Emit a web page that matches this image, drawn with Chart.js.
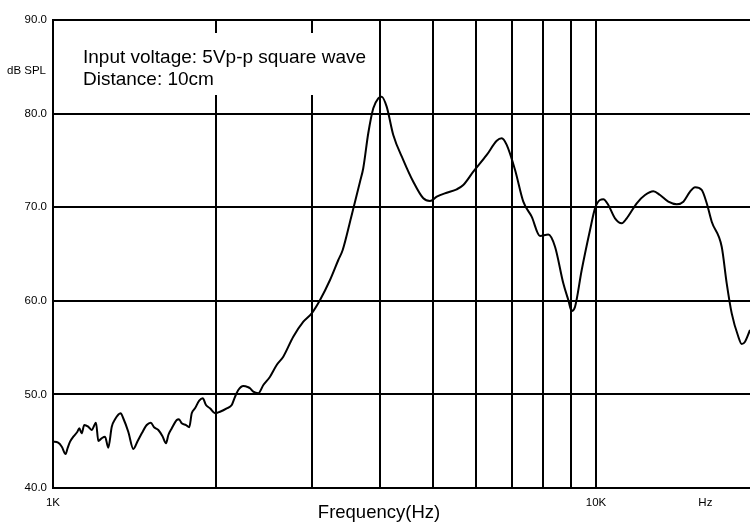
<!DOCTYPE html>
<html>
<head>
<meta charset="utf-8">
<script src="https://cdn.jsdelivr.net/npm/chart.js@4"></script>
<style>
  body { margin: 0; background: #fff; }
  #wrap { width: 750px; height: 522px; position: relative; }
</style>
</head>
<body>
<div id="wrap"><canvas id="responseChart"></canvas></div>
<script>
// frequency response
const freqHz = [
  1000, 1022, 1038, 1055, 1064, 1075, 1090, 1109, 1118, 1129,
  1142, 1161, 1178, 1200, 1212, 1229, 1247, 1264, 1283, 1301,
  1332, 1347, 1376, 1406, 1432, 1457, 1488, 1514, 1535, 1563,
  1590, 1615, 1631, 1655, 1690, 1706, 1726, 1758, 1782, 1801,
  1826, 1859, 1887, 1913, 1946, 1988, 2030, 2089, 2134, 2164,
  2194, 2241, 2289, 2306, 2338, 2388, 2440, 2510, 2582, 2655,
  2770, 2891, 2995, 3103, 3237, 3353, 3416, 3538, 3676, 3727,
  3807, 3889, 3972, 4030, 4116, 4233, 4417, 4608, 4808, 4946,
  5090, 5309, 5540, 5696, 5943, 6292, 6564, 6705, 6848, 7095,
  7347, 7612, 7886, 8170, 8405, 8705, 8892, 9020, 9150, 9412,
  9750, 9958, 10171, 10314, 10536, 10839, 11152, 11391, 11885, 12311,
  12752, 13120, 13588, 14083, 14485, 14901, 15219, 15654, 15992, 16335,
  17041, 17406, 17780, 18286, 18550, 18812, 19213
]
const splDb = [
  44.95, 44.84, 44.41, 43.63, 44.27, 44.95, 45.48, 46.01, 46.38, 45.84,
  46.73, 46.55, 46.2, 46.98, 45.02, 45.31, 45.48, 44.31, 46.55, 47.34,
  47.98, 47.45, 46.01, 44.17, 45.02, 45.84, 46.73, 46.98, 46.49, 46.2,
  45.56, 44.78, 45.66, 46.38, 47.26, 47.34, 46.91, 46.73, 46.49, 47.98,
  48.51, 49.33, 49.58, 48.87, 48.51, 47.98, 48.15, 48.51, 48.87, 49.75,
  50.47, 50.9, 50.76, 50.65, 50.29, 50.12, 51.0, 51.89, 53.14, 54.03,
  56.16, 57.77, 58.66, 60.09, 62.22, 64.36, 65.43, 68.85, 72.72, 74.16,
  77.9, 80.57, 81.63, 81.81, 80.74, 77.71, 75.04, 72.72, 70.95, 70.66,
  71.12, 71.55, 71.91, 72.37, 73.79, 75.58, 77.1, 77.36, 76.65, 73.97,
  70.59, 68.99, 66.92, 67.08, 65.78, 61.87, 60.09, 58.91, 59.37, 63.29,
  67.56, 69.88, 70.77, 70.84, 70.24, 68.81, 68.28, 68.81, 70.42, 71.3,
  71.7, 71.3, 70.59, 70.31, 70.59, 71.66, 72.13, 71.84, 70.42, 68.45,
  65.78, 61.87, 58.66, 56.16, 55.38, 55.63, 56.88
]

const xTickValues = [1000, 2000, 3000, 4000, 5000, 6000, 7000, 8000, 9000, 10000, 15900]
const xTickLabels = ['1K', '', '', '', '', '', '', '', '', '10K', 'Hz']
const yTickValues = [40, 50, 60, 70, 80, 90]

const FONT = "'Liberation Sans', Arial, sans-serif"

/**
 * Notes and axis captions drawn on the canvas.
 */
const textPlugin = {
  id: 'textPlugin',
  beforeDatasetsDraw (chart) {
    const ctx = chart.ctx
    ctx.save()
    ctx.fillStyle = '#fff'
    ctx.fillRect(55, 33, 321, 62)
    ctx.fillStyle = '#000'
    ctx.font = '19px ' + FONT
    ctx.textAlign = 'left'
    ctx.textBaseline = 'alphabetic'
    ctx.fillText('Input voltage: 5Vp-p square wave', 83, 63)
    ctx.fillText('Distance: 10cm', 83, 85)
    ctx.restore()
  },
  afterDraw (chart) {
    const ctx = chart.ctx
    ctx.save()
    ctx.fillStyle = '#000'
    ctx.font = '11.5px ' + FONT
    ctx.textAlign = 'right'
    ctx.fillText('dB SPL', 46, 74)
    ctx.font = '18.5px ' + FONT
    ctx.textAlign = 'center'
    ctx.fillText('Frequency(Hz)', 379, 518)
    ctx.restore()
  }
}

document.addEventListener('DOMContentLoaded', () => {
  const ctx = document.getElementById('responseChart').getContext('2d')

  new Chart(ctx, {
    type: 'line',
    data: {
      datasets: [{
        data: freqHz.map((f, i) => ({ x: f, y: splDb[i] })),
        borderColor: '#000',
        borderWidth: 2,
        pointRadius: 0,
        cubicInterpolationMode: 'monotone',
        fill: false
      }]
    },
    options: {
      responsive: true,
      maintainAspectRatio: false,
      devicePixelRatio: 1,
      animation: false,
      layout: { padding: { top: 20, right: 0, bottom: 0, left: 0 } },
      plugins: {
        legend: { display: false },
        tooltip: { enabled: false }
      },
      scales: {
        x: {
          type: 'logarithmic',
          min: 1000,
          max: 19213,
          afterBuildTicks: (scale) => {
            scale.ticks = xTickValues.map(v => ({ value: v }))
          },
          afterFit: (scale) => { scale.height = 34 },
          grid: {
            color: (c) => (c.tick && c.tick.value === 15900 ? 'rgba(0,0,0,0)' : '#000'),
            lineWidth: 2,
            drawTicks: false
          },
          border: { color: '#000', width: 2 },
          ticks: {
            autoSkip: false,
            maxRotation: 0,
            padding: 8,
            color: '#000',
            font: { family: FONT, size: 11.5 },
            callback: (value, index) => xTickLabels[index]
          }
        },
        y: {
          min: 40,
          max: 90,
          afterBuildTicks: (scale) => {
            scale.ticks = yTickValues.map(v => ({ value: v }))
          },
          afterFit: (scale) => { scale.width = 53 },
          grid: { color: '#000', lineWidth: 2, drawTicks: false },
          border: { color: '#000', width: 2 },
          ticks: {
            padding: 6,
            color: '#000',
            font: { family: FONT, size: 11.5 },
            callback: (value) => value.toFixed(1)
          }
        }
      }
    },
    plugins: [textPlugin]
  })
})
</script>
</body>
</html>
